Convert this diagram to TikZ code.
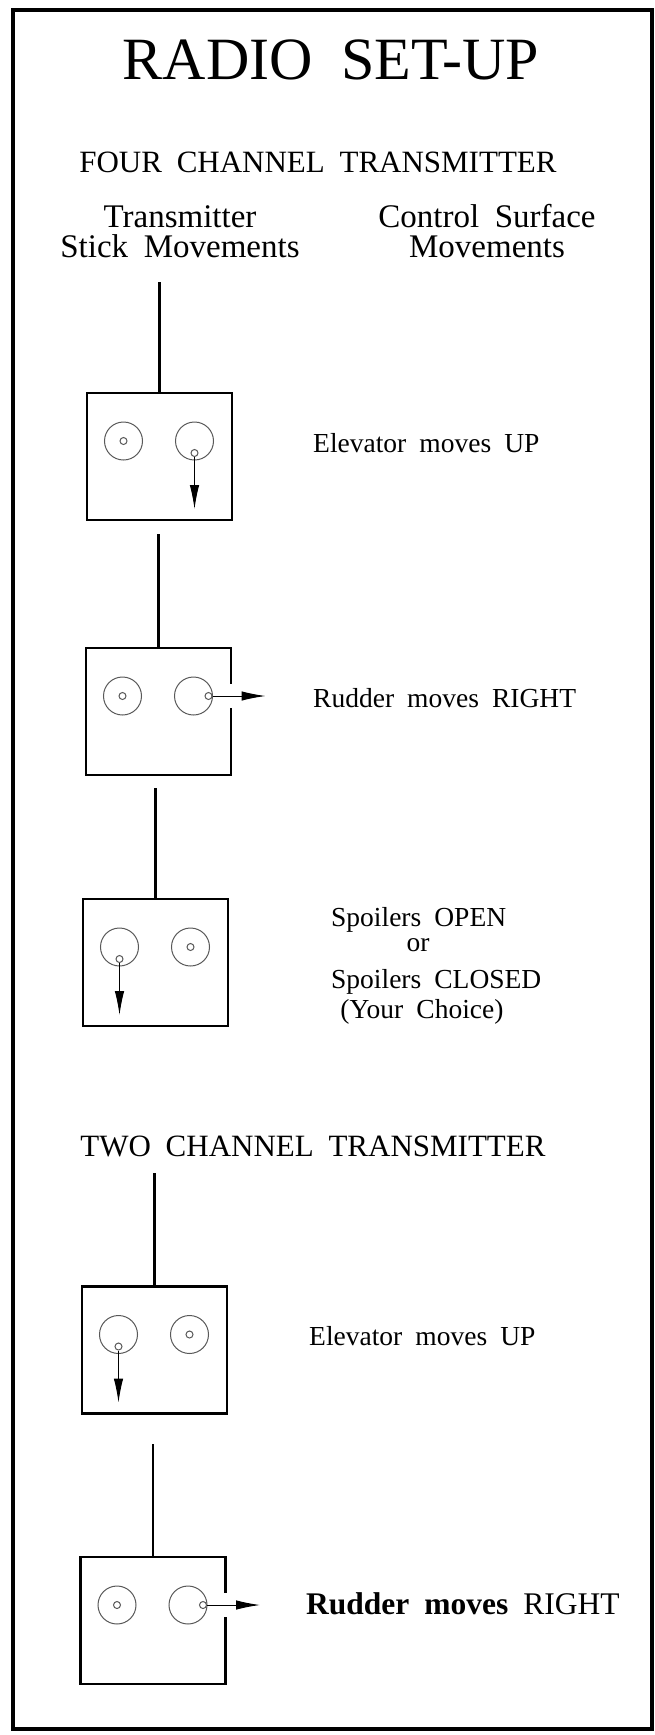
\documentclass[tikz,border=0pt]{standalone}
\usepackage{fontspec}
\setmainfont[WordSpace=1.9]{Liberation Serif}
\usetikzlibrary{calc, positioning, arrows.meta}

\tikzset{
  txbox/.style={draw, line width=2.6pt, minimum width=145pt, minimum height=127pt, inner sep=0pt},
  stick/.style={circle, draw=black!65, line width=1pt, minimum size=38pt, inner sep=0pt},
  knob/.style={circle, draw=black!65, line width=1pt, minimum size=7pt, inner sep=0pt, fill=white},
  antenna/.style={line width=2.6pt},
  move/.style={-{Latex[length=24pt,width=9.5pt]}, line width=1pt},
  heading/.style={inner sep=0pt, anchor=base, font=\fontsize{31}{36}\selectfont},
  colhead/.style={inner sep=0pt, anchor=base, font=\fontsize{33}{38}\selectfont},
  movetext/.style={inner sep=0pt, anchor=base west, font=\fontsize{27.5}{32}\selectfont}
}

\begin{document}
\begin{tikzpicture}[x=1pt,y=-1pt]
    \useasboundingbox (0,0) rectangle (655,1735);

    % Outer frame
    \draw[line width=4pt] (12.5,10) rectangle (652,1729);

    % Headings
    \node[inner sep=0pt, anchor=base, font=\fontsize{60}{68}\selectfont] (title) at (331,79) {RADIO SET-UP};
    \node[heading] (four) at (318,172) {FOUR CHANNEL TRANSMITTER};
    \node[colhead] (stickA) at (180,227) {Transmitter};
    \node[colhead] (stickB) at (180,257) {Stick Movements};
    \node[colhead] (surfA) at (487,227) {Control Surface};
    \node[colhead] (surfB) at (487,257) {Movements};
    \node[heading] (two) at (313,1156) {TWO CHANNEL TRANSMITTER};

    % Transmitters: box, antenna and the two sticks
    \foreach \n/\x/\y/\top/\lk/\rk in {1/159.5/456.5/282/{0,0}/{0,12},
                                       2/158.5/711.5/534/{0,0}/{15,0},
                                       3/155.5/962.5/788/{0,12}/{0,0},
                                       4/154.5/1350/1173/{0,12}/{0,0},
                                       5/153/1620.5/1444/{0,0}/{15,0}} {
        \node[txbox] (tx\n) at (\x,\y) {};
        \coordinate (a\n) at (\x,\top);
        \draw[antenna] (a\n) -- (tx\n.north);
        \node[stick] (l\n) at ($(tx\n.center)+(-36,-15.5)$) {};
        \node[stick] (r\n) at ($(tx\n.center)+(35,-15.5)$) {};
        \node[knob] (kl\n) at ($(l\n)+(\lk)$) {};
        \node[knob] (kr\n) at ($(r\n)+(\rk)$) {};
    }

    % Where the stick arrows end
    \coordinate (e1) at ($(r1)+(0,68)$);
    \coordinate (e2) at ($(r2)+(72,0)$);
    \coordinate (e3) at ($(l3)+(0,68)$);
    \coordinate (e4) at ($(l4)+(0,68)$);
    \coordinate (e5) at ($(r5)+(72,0)$);

    % Gap in the box side where the rudder arrow leaves
    \draw[white, line width=5pt] ([yshift=12pt]tx2.east |- r2) -- ([yshift=-12pt]tx2.east |- r2);
    \draw[white, line width=5pt] ([yshift=12pt]tx5.east |- r5) -- ([yshift=-12pt]tx5.east |- r5);

    \foreach \k/\e in {kr1/e1, kr2/e2, kl3/e3, kl4/e4, kr5/e5} {
        \draw[move] (\k) -- (\e);
    }

    % Control surface movements
    \node[movetext] (elev1) at (313,452) {Elevator moves UP};
    \node[movetext] (rud1) at (313,707) {Rudder moves RIGHT};
    \node[movetext] (spoA) at (331,926) {Spoilers OPEN};
    \node[movetext, anchor=base] (spoB) at (418,951) {or};
    \node[movetext] (spoC) at (331,988) {Spoilers CLOSED};
    \node[movetext, anchor=base] (spoD) at (422,1018) {(Your Choice)};
    \node[movetext] (elev2) at (309,1345) {Elevator moves UP};
    \node[movetext, font=\fontsize{31.5}{36}\selectfont] (rud2) at (306,1614) {\textbf{Rudder moves} RIGHT};
\end{tikzpicture}
\end{document}
